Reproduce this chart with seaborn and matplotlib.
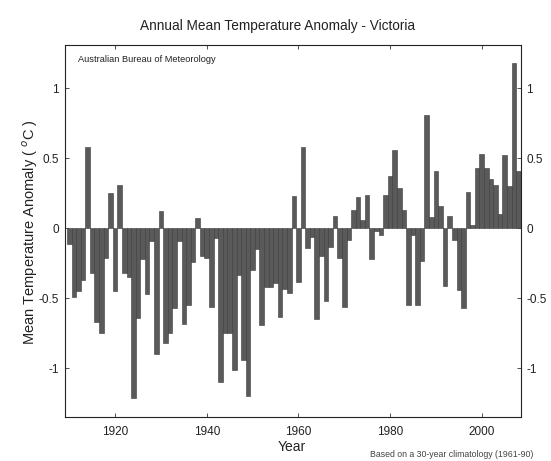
import matplotlib
matplotlib.use('Agg')
import matplotlib.pyplot as plt
import seaborn as sns
import pandas as pd

# ---------------- data ----------------
years = list(range(1910, 2009))
anomalies = [
    -0.11, -0.49, -0.45, -0.37, 0.58, -0.32, -0.67, -0.75, -0.21, 0.25,   # 1910-1919
    -0.45, 0.31, -0.32, -0.35, -1.21, -0.64, -0.22, -0.47, -0.09, -0.90,  # 1920-1929
    0.12, -0.82, -0.75, -0.57, -0.09, -0.68, -0.55, -0.24, 0.07, -0.20,   # 1930-1939
    -0.21, -0.56, -0.07, -1.10, -0.75, -0.75, -1.01, -0.33, -0.94, -1.20, # 1940-1949
    -0.30, -0.15, -0.69, -0.42, -0.42, -0.39, -0.63, -0.43, -0.46, 0.23,  # 1950-1959
    -0.38, 0.58, -0.14, -0.06, -0.65, -0.20, -0.52, -0.13, 0.09, -0.21,   # 1960-1969
    -0.56, -0.08, 0.13, 0.22, 0.06, 0.24, -0.22, -0.02, -0.05, 0.24,      # 1970-1979
    0.37, 0.56, 0.29, 0.13, -0.55, -0.05, -0.55, -0.23, 0.81, 0.08,       # 1980-1989
    0.41, 0.16, -0.41, 0.09, -0.08, -0.44, -0.57, 0.26, 0.02, 0.43,       # 1990-1999
    0.53, 0.43, 0.35, 0.31, 0.10, 0.52, 0.30, 1.18, 0.41,                 # 2000-2008
]
x_ticks = [1920, 1940, 1960, 1980, 2000]
y_ticks = [-1, -0.5, 0, 0.5, 1]
y_tick_labels = ['-1', '-0.5', '0', '0.5', '1']

title_text = "Annual Mean Temperature Anomaly - Victoria"
source_text = "Australian Bureau of Meteorology"
x_label = "Year"
y_label = "Mean Temperature Anomaly ( $^{o}$C )"
footnote = "Based on a 30-year climatology (1961-90)"

# ---------------- style ----------------
sns.set_theme(style='white')
plt.rcParams['font.family'] = ['Liberation Sans', 'DejaVu Sans']

W, H = 551, 461
fig = plt.figure(figsize=(W / 100, H / 100), dpi=100)
left, right, top, bottom = 64.7, 520.7, 45.5, 416.7
ax = fig.add_axes([left / W, 1 - bottom / H, (right - left) / W, (bottom - top) / H])

df = pd.DataFrame({'Year': years, 'Anomaly': anomalies})
sns.barplot(data=df, x='Year', y='Anomaly', native_scale=True, width=1.0,
            color='#5a5a5a', saturation=1, edgecolor='#3a3a3a', linewidth=0.4,
            errorbar=None, ax=ax)

ax.set_xlim(1909.0, 2008.5)
ax.set_ylim(-1.345, 1.305)
ax.set_xticks(x_ticks)
ax.set_xticklabels([str(t) for t in x_ticks])
ax.set_yticks(y_ticks)
ax.set_yticklabels(y_tick_labels)

ax.tick_params(axis='both', direction='in', length=3, width=0.6, color='#333333',
               labelsize=8.5, labelcolor='#222222')
ax.tick_params(axis='x', top=True, bottom=True, pad=7)
ax.tick_params(axis='y', left=True, right=True, labelleft=True, labelright=True, pad=4)

for sp in ax.spines.values():
    sp.set_visible(True)
    sp.set_color('#222222')
    sp.set_linewidth(0.8)

ax.set_xlabel('')
ax.set_ylabel('')
fig.text(292 / W, 1 - 447 / H, x_label, ha='center', va='center', fontsize=10, color='#222222')
fig.text(30 / W, 1 - 232 / H, y_label, ha='center', va='center', rotation=90,
         fontsize=10.5, color='#222222')

fig.text(277.5 / W, 1 - 26 / H, title_text, ha='center', va='center', fontsize=9.8,
         color='#222222')
fig.text(78 / W, 1 - 60 / H, source_text, ha='left', va='center', fontsize=6.7,
         color='#222222')
fig.text(533 / W, 1 - 454 / H, footnote, ha='right', va='center', fontsize=6.3,
         color='#444444')

fig.savefig('out.png', dpi=100)
